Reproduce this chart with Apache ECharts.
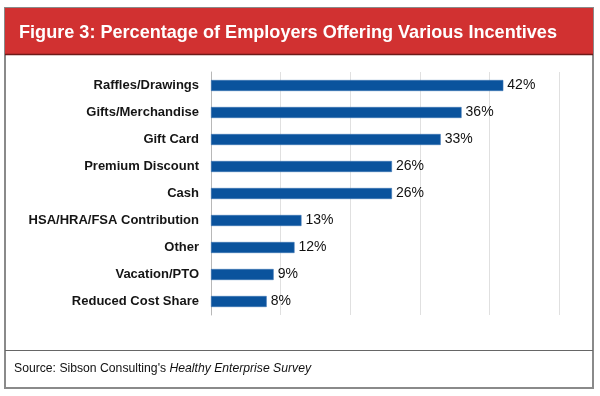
<!DOCTYPE html>
<html>
<head>
<meta charset="utf-8">
<script src="https://cdn.jsdelivr.net/npm/echarts@6/dist/echarts.min.js"></script>
<style>
  html, body { margin: 0; padding: 0; background: #fff; }
  #main { width: 600px; height: 396px; }
</style>
</head>
<body>
<div id="main"></div>
<script>
// incentives, top to bottom
var categories = [
  'Raffles/Drawings',
  'Gifts/Merchandise',
  'Gift Card',
  'Premium Discount',
  'Cash',
  'HSA/HRA/FSA Contribution',
  'Other',
  'Vacation/PTO',
  'Reduced Cost Share'
];
var percents = [42, 36, 33, 26, 26, 13, 12, 9, 8];

var titleText = 'Figure 3: Percentage of Employers Offering Various Incentives';
var sourcePlain = "Source: Sibson Consulting's ";
var sourceItalic = 'Healthy Enterprise Survey';

var font = '"Liberation Sans", Arial, sans-serif';

var myChart = echarts.init(document.getElementById('main'));

var option = {
  animation: false,
  title: [{
    text: titleText,
    left: 14,
    top: 19,
    textStyle: {
      color: '#fff',
      fontFamily: font,
      fontWeight: 'bold',
      fontSize: 18.1
    }
  }, {
    text: '{a|' + sourcePlain + '}{b|' + sourceItalic + '}',
    left: 9,
    top: 358,
    textStyle: {
      rich: {
        a: { color: '#111', fontFamily: font, fontWeight: 'normal', fontSize: 12.2 },
        b: { color: '#111', fontFamily: font, fontWeight: 'normal', fontSize: 12.2, fontStyle: 'italic' }
      }
    }
  }],
  graphic: [
    // outer frame
    { type: 'rect', z: -10, shape: { x: 5, y: 8, width: 588, height: 380 },
      style: { fill: '#fff', stroke: '#8a8a8a', lineWidth: 2 } },
    // red header band
    { type: 'rect', z: -5, shape: { x: 5, y: 8, width: 588, height: 46 },
      style: { fill: '#d13131', stroke: null } },
    { type: 'line', z: -4, shape: { x1: 5, y1: 54.5, x2: 593, y2: 54.5 },
      style: { stroke: '#6e1a18', lineWidth: 1.5 } },
    // source separator
    { type: 'line', z: -4, shape: { x1: 5, y1: 350.5, x2: 593, y2: 350.5 },
      style: { stroke: '#666', lineWidth: 1 } }
  ],
  grid: {
    left: 211,
    right: 41,
    top: 72,
    bottom: 81
  },
  xAxis: {
    type: 'value',
    min: 0,
    max: 50,
    interval: 10,
    axisLabel: { show: false },
    axisLine: { show: false },
    axisTick: { show: false },
    splitLine: { lineStyle: { color: '#e0e0e0', width: 1 } }
  },
  yAxis: {
    type: 'category',
    inverse: true,
    data: categories,
    axisLine: { lineStyle: { color: '#b8b8b8' } },
    axisTick: { length: 3, lineStyle: { color: '#b8b8b8' } },
    axisLabel: {
      margin: 12,
      color: '#151515',
      fontFamily: font,
      fontWeight: 'bold',
      fontSize: 13
    }
  },
  series: [{
    type: 'bar',
    data: percents,
    barWidth: 11,
    itemStyle: {
      color: '#0a539d',
      borderColor: '#3a74b4',
      borderWidth: 0.6
    },
    label: {
      show: true,
      position: 'right',
      distance: 4,
      formatter: '{c}%',
      color: '#111',
      fontFamily: font,
      fontSize: 14
    }
  }]
};

myChart.setOption(option);
</script>
</body>
</html>
